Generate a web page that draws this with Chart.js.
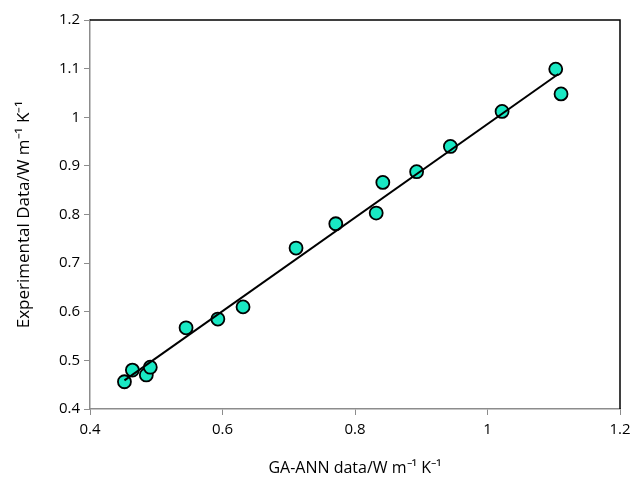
<!DOCTYPE html>
<html>
<head>
<meta charset="utf-8">
<script src="https://cdn.jsdelivr.net/npm/chart.js@4"></script>
<style>
  html, body { margin: 0; padding: 0; background: #fff; }
  #wrap { width: 642px; height: 478px; }
</style>
</head>
<body>
<div id="wrap"><canvas id="chart"></canvas></div>
<script>
// Datos
const annValues = [0.452, 0.464, 0.485, 0.491, 0.545, 0.593, 0.631, 0.711, 0.771, 0.832, 0.842, 0.893, 0.944, 1.022, 1.103, 1.111];
const expValues = [0.456, 0.480, 0.470, 0.486, 0.567, 0.585, 0.610, 0.731, 0.781, 0.803, 0.866, 0.888, 0.940, 1.012, 1.099, 1.048];
// Linea de tendencia (extremos)
const trendX = [0.452, 1.107];
const trendY = [0.459, 1.089];

const FONT = "'Open Sans', 'Liberation Sans', sans-serif";
const AXIS_GRAY = '#8c8c8c';

// Marco negro arriba y a la derecha
const framePlugin = {
  id: 'frame',
  afterDatasetsDraw(chart) {
    const { ctx, chartArea: a } = chart;
    ctx.save();
    ctx.strokeStyle = '#000';
    ctx.lineWidth = 1.5;
    ctx.beginPath();
    ctx.moveTo(a.left, a.top);
    ctx.lineTo(a.right, a.top);
    ctx.lineTo(a.right, a.bottom);
    ctx.stroke();
    ctx.restore();
  }
};

new Chart(document.getElementById('chart'), {
  type: 'scatter',
  data: {
    datasets: [
      {
        type: 'line',
        label: 'Tendencia',
        data: trendX.map((x, i) => ({ x, y: trendY[i] })),
        borderColor: '#000',
        borderWidth: 2,
        pointRadius: 0,
        fill: false,
        order: 0
      },
      {
        label: 'Datos',
        data: annValues.map((x, i) => ({ x, y: expValues[i] })),
        backgroundColor: '#19e8c3',
        borderColor: '#000',
        borderWidth: 1.8,
        pointRadius: 6.5,
        order: 1
      }
    ]
  },
  options: {
    responsive: true,
    maintainAspectRatio: false,
    animation: false,
    layout: { padding: { left: 0, right: 22, top: 20, bottom: 0 } },
    plugins: {
      legend: { display: false },
      tooltip: { enabled: false }
    },
    scales: {
      x: {
        type: 'linear',
        min: 0.4,
        max: 1.2,
        ticks: {
          stepSize: 0.2,
          color: '#000',
          font: { family: FONT, size: 15 },
          padding: 6,
          callback: v => Number(v.toFixed(1)).toString()
        },
        grid: { drawOnChartArea: false, color: AXIS_GRAY, tickLength: 6 },
        border: { color: AXIS_GRAY, width: 1.5 },
        title: {
          display: true,
          text: 'GA-ANN data/W m⁻¹ K⁻¹',
          color: '#000',
          font: { family: FONT, size: 16 },
          padding: { top: 4, bottom: 0 }
        },
        afterFit(scale) { scale.height = 69; }
      },
      y: {
        min: 0.4,
        max: 1.2,
        ticks: {
          stepSize: 0.1,
          color: '#000',
          font: { family: FONT, size: 15 },
          padding: 4,
          callback: v => Number(v.toFixed(1)).toString()
        },
        grid: { drawOnChartArea: false, color: AXIS_GRAY, tickLength: 6 },
        border: { color: AXIS_GRAY, width: 1.5 },
        title: {
          display: true,
          text: 'Experimental Data/W m⁻¹ K⁻¹',
          color: '#000',
          font: { family: FONT, size: 17 },
          padding: { top: 14, bottom: 4 }
        },
        afterFit(scale) { scale.width = 90; }
      }
    }
  },
  plugins: [framePlugin]
});
</script>
</body>
</html>
